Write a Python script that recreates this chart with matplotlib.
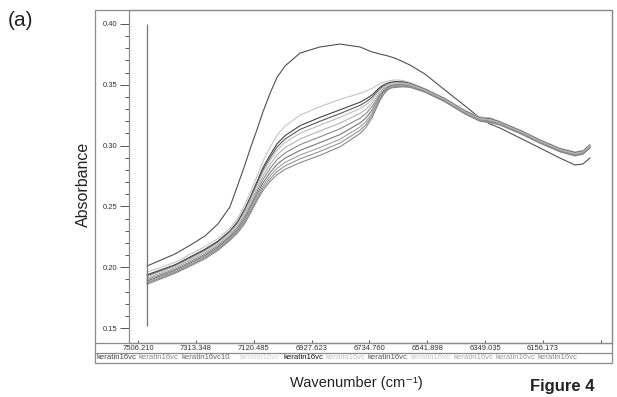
import matplotlib
matplotlib.use("Agg")
import matplotlib.pyplot as plt
from matplotlib.lines import Line2D
from matplotlib.patches import Rectangle
from matplotlib.ticker import NullLocator

plt.rcParams['font.family'] = ['Liberation Sans', 'DejaVu Sans']

# ---------------- data ----------------
wavenumber = [7476, 7383, 7333, 7283, 7240, 7200, 7173, 7150, 7130, 7110, 7090, 7066, 7043,
              7016, 6966, 6900, 6833, 6766, 6746, 6726, 6713, 6700, 6686, 6673, 6660, 6643,
              6623, 6600, 6550, 6483, 6416, 6366, 6333, 6300, 6233, 6166, 6100, 6050, 6023,
              6000]

outlier = [0.2010, 0.2109, 0.2180, 0.2257, 0.2355, 0.2495, 0.2680, 0.2841, 0.2990, 0.3128,
           0.3275, 0.3430, 0.3560, 0.3655, 0.3761, 0.3811, 0.3835, 0.3811, 0.3790, 0.3770,
           0.3762, 0.3753, 0.3745, 0.3737, 0.3727, 0.3712, 0.3690, 0.3663, 0.3589, 0.3457,
           0.3326, 0.3227, 0.3178, 0.3145, 0.3063, 0.2980, 0.2898, 0.2841, 0.2849, 0.2898]
f0 = [0.196, 0.204, 0.2105, 0.217, 0.2235, 0.232, 0.2405, 0.2515, 0.2625, 0.2745, 0.287,
      0.2985, 0.3085, 0.316, 0.325, 0.332, 0.338, 0.343, 0.345, 0.347, 0.349, 0.351, 0.3522,
      0.353, 0.3537, 0.354, 0.3535, 0.352, 0.347, 0.339, 0.329, 0.3235, 0.323, 0.320, 0.313,
      0.305, 0.298, 0.295, 0.296, 0.301]
f1 = [0.1938, 0.2020, 0.2084, 0.2148, 0.2214, 0.2298, 0.2379, 0.2481, 0.2587, 0.2701, 0.2817,
      0.2923, 0.3014, 0.3082, 0.3164, 0.3232, 0.3294, 0.3357, 0.3384, 0.3417, 0.3448, 0.3479,
      0.3501, 0.3515, 0.3523, 0.3527, 0.3524, 0.3511, 0.3463, 0.3383, 0.3283, 0.3227, 0.3221,
      0.3193, 0.3123, 0.3043, 0.2973, 0.2942, 0.2953, 0.3003]
f2 = [0.1930, 0.2013, 0.2076, 0.2140, 0.2206, 0.2290, 0.2369, 0.2469, 0.2573, 0.2685, 0.2798,
      0.2901, 0.2988, 0.3054, 0.3133, 0.3200, 0.3263, 0.3331, 0.3360, 0.3398, 0.3433, 0.3468,
      0.3493, 0.3509, 0.3518, 0.3522, 0.3519, 0.3508, 0.3461, 0.3381, 0.3281, 0.3225, 0.3218,
      0.3191, 0.3121, 0.3041, 0.2971, 0.2940, 0.2951, 0.3001]
f3 = [0.1922, 0.2006, 0.2068, 0.2132, 0.2198, 0.2282, 0.2359, 0.2456, 0.2559, 0.2669, 0.2779,
      0.2879, 0.2962, 0.3025, 0.3102, 0.3168, 0.3232, 0.3305, 0.3336, 0.3379, 0.3418, 0.3457,
      0.3485, 0.3503, 0.3513, 0.3517, 0.3515, 0.3505, 0.3459, 0.3379, 0.3279, 0.3222, 0.3215,
      0.3189, 0.3119, 0.3039, 0.2969, 0.2937, 0.2949, 0.2999]
f4 = [0.1910, 0.1995, 0.2057, 0.2120, 0.2187, 0.2270, 0.2345, 0.2438, 0.2538, 0.2645, 0.2750,
      0.2845, 0.2923, 0.2983, 0.3055, 0.3120, 0.3185, 0.3265, 0.3300, 0.3350, 0.3395, 0.3440,
      0.3474, 0.3495, 0.3506, 0.3510, 0.3509, 0.3500, 0.3455, 0.3375, 0.3275, 0.3218, 0.3210,
      0.3185, 0.3115, 0.3035, 0.2965, 0.2933, 0.2945, 0.2995]
f5 = [0.1898, 0.1984, 0.2045, 0.2108, 0.2175, 0.2258, 0.2331, 0.2419, 0.2517, 0.2621, 0.2721,
      0.2811, 0.2884, 0.2940, 0.3008, 0.3072, 0.3138, 0.3225, 0.3264, 0.3321, 0.3372, 0.3423,
      0.3462, 0.3487, 0.3499, 0.3503, 0.3503, 0.3495, 0.3451, 0.3371, 0.3271, 0.3213, 0.3205,
      0.3181, 0.3111, 0.3031, 0.2961, 0.2928, 0.2941, 0.2991]
f6 = [0.1886, 0.1973, 0.2033, 0.2096, 0.2163, 0.2246, 0.2316, 0.2400, 0.2496, 0.2597, 0.2692,
      0.2778, 0.2845, 0.2897, 0.2961, 0.3024, 0.3091, 0.3186, 0.3228, 0.3292, 0.3349, 0.3406,
      0.3450, 0.3478, 0.3491, 0.3496, 0.3497, 0.3490, 0.3448, 0.3368, 0.3268, 0.3209, 0.3200,
      0.3178, 0.3108, 0.3028, 0.2958, 0.2924, 0.2938, 0.2988]
f7 = [0.1876, 0.1964, 0.2024, 0.2086, 0.2154, 0.2236, 0.2304, 0.2385, 0.2478, 0.2577, 0.2668,
      0.2750, 0.2812, 0.2862, 0.2922, 0.2984, 0.3052, 0.3153, 0.3198, 0.3268, 0.3330, 0.3392,
      0.3441, 0.3471, 0.3485, 0.3490, 0.3491, 0.3486, 0.3445, 0.3365, 0.3265, 0.3206, 0.3196,
      0.3175, 0.3105, 0.3025, 0.2955, 0.2921, 0.2935, 0.2985]
f8 = [0.1868, 0.1957, 0.2016, 0.2078, 0.2146, 0.2228, 0.2295, 0.2372, 0.2464, 0.2561, 0.2649,
      0.2727, 0.2786, 0.2833, 0.2891, 0.2952, 0.3021, 0.3126, 0.3174, 0.3249, 0.3315, 0.3381,
      0.3433, 0.3466, 0.3480, 0.3485, 0.3487, 0.3483, 0.3442, 0.3362, 0.3262, 0.3203, 0.3193,
      0.3172, 0.3102, 0.3022, 0.2952, 0.2918, 0.2932, 0.2982]
f9 = [0.186, 0.195, 0.2008, 0.207, 0.2138, 0.222, 0.2285, 0.236, 0.245, 0.2545, 0.263, 0.2705,
      0.276, 0.2805, 0.286, 0.292, 0.299, 0.310, 0.315, 0.323, 0.330, 0.337, 0.3425, 0.346,
      0.3475, 0.348, 0.3483, 0.348, 0.344, 0.336, 0.326, 0.320, 0.319, 0.317, 0.310, 0.302,
      0.295, 0.2915, 0.293, 0.298]

series = [outlier, f5, f6, f0, f1, f4, f2, f3, f7, f8, f9]
series_colors = ["#505050", "#8a8a8a", "#777777", "#c4c4c4", "#444444", "#b4b4b4",
                 "#5a5a5a", "#bcbcbc", "#a0a0a0", "#949494", "#888888"]
legend_names = ["keratin16vc", "keratin16vc", "keratin16vc10", "keratin16vc", "keratin16vc",
                "keratin16vc", "keratin16vc", "keratin16vc", "keratin16vc", "keratin16vc",
                "keratin16vc"]
legend_colors = ["#444444", "#888888", "#666666", "#d0d0d0", "#111111", "#c0c0c0",
                 "#555555", "#c8c8c8", "#a8a8a8", "#999999", "#888888"]

xtick_values = [7506.210, 7313.348, 7120.485, 6927.623, 6734.760, 6541.898, 6349.035,
                6156.173, 5963.311]
xtick_labels = ["7506.210", "7313.348", "7120.485", "6927.623", "6734.760", "6541.898",
                "6349.035", "6156.173", ""]
ytick_values = [0.15, 0.20, 0.25, 0.30, 0.35, 0.40]
ytick_labels = ["0.15", "0.20", "0.25", "0.30", "0.35", "0.40"]
yminor_values = [0.16, 0.17, 0.18, 0.19, 0.21, 0.22, 0.23, 0.24, 0.26, 0.27, 0.28, 0.29,
                 0.31, 0.32, 0.33, 0.34, 0.36, 0.37, 0.38, 0.39]
cursor_wn = 7476
cursor_range = (0.152, 0.400)

# ---------------- layout ----------------
W, H = 617, 397
fig = plt.figure(figsize=(W / 100, H / 100), dpi=100)


def fx(x):
    return x / W


def fy(y):
    return 1 - y / H


frame_col = "#8c8c8c"
ax_l, ax_r, ax_t, ax_b = 129, 612, 10, 343
ax = fig.add_axes([fx(ax_l), fy(ax_b), (ax_r - ax_l) / W, (ax_b - ax_t) / H])
ax.set_xlim(7536.2, 5926.2)
ax.set_ylim(0.1377, 0.4115)

for s, c in zip(series, series_colors):
    ax.plot(wavenumber, s, color=c, lw=0.8, solid_joinstyle='round')

ax.vlines(cursor_wn, cursor_range[0], cursor_range[1], color="#777777", lw=0.9)

for sp in ax.spines.values():
    sp.set_color(frame_col)
    sp.set_linewidth(0.9)

ax.set_yticks(ytick_values)
ax.set_yticklabels(ytick_labels)
ax.set_yticks(yminor_values, minor=True)
ax.xaxis.set_minor_locator(NullLocator())
ax.tick_params(axis='y', which='major', direction='out', length=6.5, width=0.7,
               color="#555555", labelsize=5.5, pad=2, labelcolor="#333333")
ax.tick_params(axis='y', which='minor', direction='out', length=3.2, width=0.7,
               color="#555555")
ax.set_xticks(xtick_values)
ax.set_xticklabels(xtick_labels)
ax.tick_params(axis='x', which='major', direction='in', length=2.5, width=0.7,
               color="#555555", labelsize=5.5, pad=1.5, labelcolor="#333333")

# outer frame and strips
fig.add_artist(Rectangle((fx(95), fy(363)), (612 - 95) / W, (363 - 10) / H,
                         transform=fig.transFigure, fill=False, ec=frame_col, lw=0.9))
fig.add_artist(Line2D([fx(95), fx(612)], [fy(343), fy(343)], transform=fig.transFigure,
                      color=frame_col, lw=0.9))
fig.add_artist(Line2D([fx(95), fx(612)], [fy(352.5), fy(352.5)], transform=fig.transFigure,
                      color=frame_col, lw=0.9))

legend_x = [96, 138.5, 181, 239, 283, 325.5, 368, 410.5, 453, 495.5, 538]
for x0, name, c in zip(legend_x, legend_names, legend_colors):
    fig.text(fx(x0), fy(357.8), name, color=c, fontsize=5.6, ha='left', va='center')

fig.text(fx(8), fy(21), "(a)", fontsize=15, ha='left', va='center', color="#222222")
fig.text(fx(83), fy(184), "Absorbance", fontsize=11.5, rotation=90, ha='center',
         va='center', color="#222222")
fig.text(fx(356), fy(383), "Wavenumber (cm⁻¹)", fontsize=10.5, ha='center', va='center',
         color="#222222")
fig.text(fx(530), fy(386), "Figure 4", fontsize=12, fontweight='bold', ha='left',
         va='center', color="#222222")

fig.savefig("out.png", dpi=100)
